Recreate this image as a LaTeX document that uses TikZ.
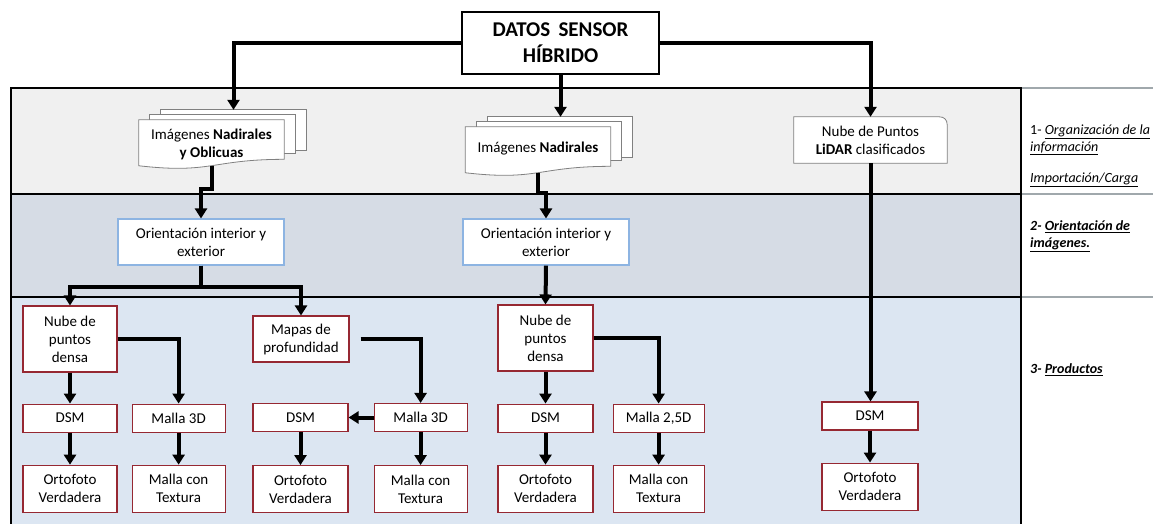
\documentclass[tikz,border=0pt]{standalone}
\usepackage{fontspec}
\setmainfont{Carlito}
\usepackage{tikz}
\usetikzlibrary{positioning,arrows.meta,calc}

\definecolor{laneone}{RGB}{240,240,240}
\definecolor{lanetwo}{RGB}{214,220,229}
\definecolor{lanethree}{RGB}{220,230,242}
\definecolor{prodred}{RGB}{150,40,50}
\definecolor{oriblue}{RGB}{141,180,226}
\definecolor{sepgray}{RGB}{160,168,172}

\pgfdeclarelayer{lanes}
\pgfdeclarelayer{pages}
\pgfsetlayers{lanes,pages,main}

% stack of three sheets behind a document node
\newcommand{\pagestack}[1]{%
  \draw[page] ([shift={(22,-10)}]#1.north west) rectangle ([shift={(22,-19)}]#1.south east);
  \draw[page] ([shift={(11,-5)}]#1.north west) rectangle ([shift={(11,-16)}]#1.south east);
  \draw[page] (#1.north west) -- (#1.north east)
    -- ($(#1.north east)!0.8!(#1.south east)$)
    .. controls ($(#1.north)!0.8!(#1.south)$) and ($(#1.north)!1.1!(#1.south)$)
    .. ($(#1.north west)!0.93!(#1.south west)$) -- cycle;
  \coordinate (#1-back) at ([shift={(22,-10)}]#1.north);
}

\begin{document}
\begin{tikzpicture}[
  x=1pt, y=-1pt,
  >={Triangle[width=12pt,length=10pt]},
  font=\fontsize{15}{18}\selectfont,
  topbox/.style ={draw,line width=1.5pt,fill=white,align=center,
                   font=\fontsize{21}{26}\selectfont\bfseries,
                   minimum width=197pt,minimum height=62pt},
  doc/.style    ={align=center,inner sep=0pt,minimum width=145pt,minimum height=49pt},
  page/.style   ={draw=black!50,line width=0.8pt,fill=white},
  cloud/.style  ={align=center,inner sep=0pt,minimum width=153pt,minimum height=46pt},
  ori/.style    ={draw=oriblue,line width=1.1pt,fill=white,align=center,
                   minimum width=166pt,minimum height=46pt},
  prod/.style   ={draw=prodred,line width=1.1pt,fill=white,align=center,inner sep=0pt,
                   minimum width=94pt,minimum height=28pt},
  tall/.style   ={prod,minimum height=47pt},
  lanetext/.style={anchor=west,align=left,inner sep=0pt,font=\fontsize{14}{17}\selectfont},
  laneline/.style={line width=1.4pt},
  link/.style   ={->,line width=4pt}]

\useasboundingbox (0,0) rectangle (1153,524);

% --- swim lanes ---
\begin{pgfonlayer}{lanes}
  \fill[laneone]   (11,88)  rectangle (1021,194);
  \fill[lanetwo]   (11,194) rectangle (1021,297);
  \fill[lanethree] (11,297) rectangle (1021,524);
  \draw[sepgray,line width=1.5pt] (1021,88) -- (1153,88) (1021,194) -- (1153,194)
    (1021,297) -- (1153,297);
  \draw[laneline] (11,524) -- (11,88) -- (1021,88) -- (1021,524)
    (11,194) -- (1021,194) (11,297) -- (1021,297);
\end{pgfonlayer}

% --- source ---
\node[topbox] (datos) at (560.5,43) {DATOS\, SENSOR\\HÍBRIDO};

% --- 1: organisation of the data ---
\node[doc] (docA) at (211.5,144.5) {Imágenes \textbf{Nadirales}\\\textbf{y Oblicuas}};
\node[doc] (docB) at (538,151.5) {\raisebox{9pt}{Imágenes \textbf{Nadirales}}};
\node[cloud] (lidar) at (870.5,140) {Nube de Puntos\\\textbf{LiDAR} clasificados};

\begin{pgfonlayer}{pages}
  \pagestack{docA}
  \pagestack{docB}
  \draw[page] (lidar.south west) -- (lidar.north west) -- ([xshift=-8pt]lidar.north east)
    .. controls ([xshift=-3pt]lidar.north east) and ([yshift=-3pt]lidar.north east)
    .. ([yshift=-8pt]lidar.north east) -- (lidar.south east) -- cycle;
\end{pgfonlayer}

\draw[link] (datos.west) -| (docA-back);
\draw[link] (datos.south) -- (datos.south |- docB-back);
\draw[link] (datos.east) -| (lidar.north);

% --- 2: orientation ---
\node[ori] (oriA) at (201,242) {Orientación interior y\\exterior};
\node[ori] (oriB) at (546,242) {Orientación interior y\\exterior};

\draw[link] ($(docA.north)!0.93!(docA.south)$) -- ++(0,23) -| (oriA.north);
\draw[link] ($(docB.north)!0.93!(docB.south)$) -- ++(0,20) -| (oriB.north);

% --- 3: products, oblique branch ---
\node[prod,minimum height=66pt] (nubeA) at (70,339) {Nube de\\puntos\\densa};
\node[prod,below=31pt of nubeA] (dsmA) {DSM};
\node[tall,below=32pt of dsmA] (ortoA) {Ortofoto\\Verdadera};
\node[prod,minimum width=93pt,right=14pt of dsmA] (mallaA) {Malla 3D};
\node[tall,minimum width=93pt,below=32pt of mallaA] (texA) {Malla con\\Textura};

\node[prod,minimum width=96pt,minimum height=46pt] (mapas) at (301,339) {Mapas de\\profundidad};
\node[prod,minimum width=95pt] (dsmB) at (300.5,417.5) {DSM};
\node[prod,minimum width=93pt,right=25pt of dsmB] (mallaB) {Malla 3D};
\node[tall,minimum width=95pt,below=33pt of dsmB] (ortoB) {Ortofoto\\Verdadera};
\node[tall,minimum width=93pt,below=33pt of mallaB] (texB) {Malla con\\Textura};

\draw[link] (oriA.south) -- ++(0,21) -| (nubeA.north);
\draw[link] (oriA.south) -- ++(0,21) -| (mapas.north);
\draw[link] (nubeA) -- (dsmA);
\draw[link] (dsmA) -- (ortoA);
\draw[link] (nubeA.east) -| (mallaA.north);
\draw[link] (mallaA) -- (texA);
\draw[link] ([xshift=11pt]mapas.east) -| (mallaB.north);
\draw[link] (mallaB) -- (dsmB);
\draw[link] (dsmB) -- (ortoB);
\draw[link] (mallaB) -- (texB);

% --- 3: products, nadir branch ---
\node[prod,minimum width=95pt,minimum height=66pt] (nubeC) at (545.5,338) {Nube de\\puntos\\densa};
\node[prod,minimum width=95pt,below=32pt of nubeC] (dsmC) {DSM};
\node[tall,minimum width=95pt,below=32pt of dsmC] (ortoC) {Ortofoto\\Verdadera};
\node[prod,minimum width=91pt,right=19pt of dsmC] (mallaC) {Malla 2,5D};
\node[tall,minimum width=91pt,below=32pt of mallaC] (texC) {Malla con\\Textura};

\draw[link] (oriB.south) -- (nubeC.north);
\draw[link] (nubeC) -- (dsmC);
\draw[link] (dsmC) -- (ortoC);
\draw[link] (nubeC.east) -| (mallaC.north);
\draw[link] (mallaC) -- (texC);

% --- 3: products, LiDAR branch ---
\node[prod,minimum width=96pt] (dsmD) at (870,416) {DSM};
\node[tall,minimum width=96pt,below=32pt of dsmD] (ortoD) {Ortofoto\\Verdadera};

\draw[link] (lidar.south) -- (lidar.south |- dsmD.north);
\draw[link] (dsmD) -- (ortoD);

% --- lane titles ---
\node[lanetext] (labA) at (1030,139.5) {1- \underline{\textit{Organización de la}}\\\underline{\textit{información}}};
\node[lanetext] (labImp) at (1030,180) {\underline{\textit{Importación/Carga}}};
\node[lanetext,font=\fontsize{14}{17}\selectfont\bfseries\itshape] (labB) at (1030,236)
  {2- \underline{Orientación de}\\\underline{imágenes.}};
\node[lanetext,font=\fontsize{14}{17}\selectfont\bfseries\itshape] (labC) at (1030,370)
  {3- \underline{Productos}};

\end{tikzpicture}
\end{document}
